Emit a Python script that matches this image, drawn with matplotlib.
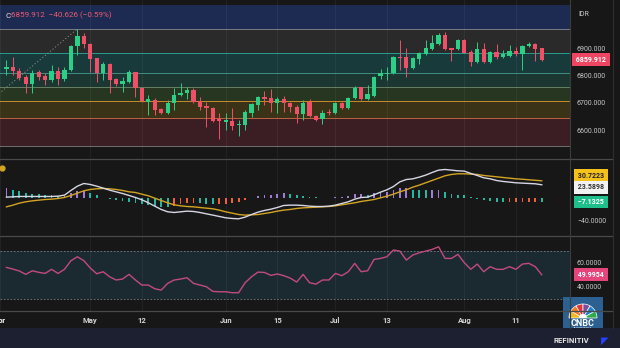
import matplotlib
matplotlib.use('Agg')
import numpy as np
import matplotlib.pyplot as plt
import matplotlib.transforms as mtransforms
from matplotlib.lines import Line2D
from matplotlib.patches import Rectangle, Wedge
from matplotlib.ticker import FuncFormatter

plt.rcParams['font.family'] = ['Roboto', 'DejaVu Sans']

# daily candles, trading days 4 Apr .. 18 Aug (bar index 0..83)
opens = [6826, 6834, 6819, 6794, 6770, 6813, 6799, 6785, 6819, 6787,
         6821, 6910, 6947, 6917, 6865, 6811, 6844, 6788, 6769, 6778,
         6813, 6754, 6704, 6711, 6676, 6662, 6699, 6729, 6738, 6748,
         6707, 6689, 6680, 6639, 6631, 6633, 6617, 6618, 6664, 6692,
         6723, 6717, 6699, 6714, 6699, 6686, 6659, 6704, 6652, 6639,
         6668, 6662, 6699, 6680, 6717, 6758, 6713, 6725, 6799, 6807,
         6809, 6870, 6868, 6830, 6862, 6880, 6898, 6916, 6951, 6901,
         6898, 6932, 6889, 6852, 6898, 6852, 6887, 6868, 6874, 6892,
         6879, 6910, 6916, 6901]
highs = [6858, 6870, 6829, 6803, 6821, 6821, 6810, 6840, 6834, 6834,
         6914, 6972, 6957, 6920, 6867, 6852, 6846, 6791, 6797, 6821,
         6815, 6756, 6729, 6717, 6681, 6711, 6754, 6775, 6760, 6754,
         6723, 6704, 6684, 6662, 6664, 6680, 6637, 6674, 6701, 6725,
         6745, 6750, 6721, 6725, 6704, 6692, 6711, 6713, 6655, 6674,
         6676, 6704, 6704, 6723, 6762, 6760, 6766, 6799, 6824, 6834,
         6873, 6932, 6901, 6870, 6889, 6932, 6951, 6957, 6963, 6901,
         6935, 6935, 6895, 6926, 6922, 6892, 6917, 6895, 6914, 6907,
         6914, 6926, 6920, 6902]
lows = [6803, 6803, 6785, 6738, 6735, 6785, 6766, 6778, 6766, 6782,
        6819, 6877, 6901, 6815, 6778, 6785, 6735, 6762, 6741, 6775,
        6723, 6704, 6655, 6655, 6659, 6659, 6674, 6725, 6713, 6699,
        6674, 6612, 6631, 6566, 6600, 6600, 6578, 6600, 6649, 6674,
        6692, 6668, 6662, 6668, 6668, 6627, 6637, 6647, 6634, 6622,
        6655, 6659, 6676, 6676, 6713, 6711, 6711, 6721, 6787, 6785,
        6807, 6821, 6797, 6824, 6844, 6877, 6895, 6914, 6895, 6856,
        6895, 6883, 6836, 6848, 6848, 6848, 6861, 6865, 6870, 6873,
        6821, 6907, 6856, 6856]
closes = [6834, 6818, 6791, 6770, 6811, 6797, 6785, 6819, 6787, 6821,
          6910, 6947, 6916, 6861, 6811, 6844, 6785, 6769, 6781, 6813,
          6754, 6707, 6713, 6674, 6662, 6701, 6729, 6738, 6748, 6704,
          6684, 6680, 6634, 6634, 6637, 6616, 6622, 6665, 6696, 6721,
          6715, 6699, 6713, 6699, 6684, 6658, 6701, 6652, 6637, 6664,
          6662, 6699, 6680, 6719, 6756, 6713, 6733, 6797, 6809, 6811,
          6870, 6865, 6828, 6865, 6883, 6901, 6920, 6951, 6898, 6895,
          6932, 6885, 6852, 6898, 6852, 6887, 6868, 6879, 6892, 6879,
          6910, 6916, 6900.538, 6859.912]

macd = [1.5, 2.1, 2.7, 2.7, 2.7, 2.7, 2.7, 2.7, 3.3, 5.1,
        13.4, 21.1, 25.9, 24.1, 21.1, 17.6, 14.0, 11.0, 8.0, 4.5,
        0.9, -3.3, -8.6, -14.6, -20.5, -24.7, -25.9, -24.7, -23.5, -24.1,
        -25.9, -28.3, -30.6, -33.0, -35.4, -36.6, -37.2, -34.2, -29.5, -25.3,
        -22.3, -20.0, -17.0, -13.4, -12.8, -12.8, -13.4, -14.6, -15.2, -15.2,
        -14.6, -12.8, -9.8, -6.8, -2.1, 0.9, 1.5, 5.7, 10.4, 14.6,
        20.5, 28.8, 33.0, 34.2, 37.2, 40.8, 45.5, 49.7, 50.9, 49.7,
        48.5, 47.9, 43.8, 40.2, 36.0, 34.2, 31.2, 29.5, 28.3, 27.1,
        26.5, 25.9, 25.3, 23.5898]
signal = [-15.8, -12.8, -9.2, -6.8, -5.1, -3.9, -2.7, -2.1, -0.9, 0.9,
          4.5, 8.6, 12.8, 15.2, 16.4, 17.0, 16.4, 15.2, 13.4, 11.0,
          9.8, 6.8, 3.9, -0.3, -4.5, -8.6, -12.2, -14.0, -15.2, -15.8,
          -17.0, -18.2, -19.3, -21.7, -24.7, -27.1, -29.5, -30.6, -30.1, -29.5,
          -27.7, -25.9, -23.5, -21.7, -20.5, -18.7, -17.6, -17.0, -16.4, -15.8,
          -15.2, -14.0, -12.2, -10.4, -8.6, -6.2, -4.5, -2.7, 0.3, 3.3,
          6.8, 11.0, 14.6, 19.3, 22.9, 27.1, 31.3, 35.4, 39.6, 42.0,
          43.2, 43.2, 42.6, 42.0, 40.2, 39.0, 37.8, 36.6, 35.4, 34.2,
          33.5, 32.5, 31.6, 30.7223]
hist = [17.3, 14.9, 11.9, 9.5, 7.8, 6.6, 5.4, 4.8, 4.2, 4.2,
        8.9, 12.5, 13.1, 8.9, 4.7, 0.6, -2.4, -4.2, -5.4, -6.5,
        -8.9, -10.1, -12.5, -14.3, -16.0, -16.1, -13.7, -10.7, -8.3, -8.3,
        -8.9, -10.1, -11.3, -11.3, -10.7, -9.5, -7.7, -3.6, 0.6, 4.2,
        5.4, 5.9, 6.5, 8.3, 7.7, 5.9, 4.2, 2.4, 1.2, 0.6,
        0.6, 1.2, 2.4, 3.6, 6.5, 7.1, 6.0, 8.4, 10.1, 11.3,
        13.7, 17.8, 18.4, 14.9, 14.3, 13.7, 14.2, 14.3, 11.3, 7.7,
        5.3, 4.7, 1.2, -1.8, -4.2, -4.8, -6.6, -7.1, -7.1, -7.1,
        -7.0, -6.6, -6.3, -7.1325]
rsi = [56.1, 54.7, 53.1, 50.3, 53.3, 52.0, 51.1, 54.5, 51.1, 54.5,
       61.7, 65.0, 61.7, 55.6, 50.8, 52.5, 48.3, 45.6, 46.4, 50.3,
       45.6, 41.4, 41.4, 38.3, 37.2, 42.8, 45.6, 46.4, 47.5, 42.8,
       41.4, 40.0, 36.1, 35.8, 35.8, 35.0, 35.0, 43.3, 48.3, 52.2,
       51.9, 49.5, 50.6, 49.2, 47.2, 43.9, 50.3, 43.3, 42.2, 45.6,
       45.6, 51.1, 49.2, 52.5, 59.5, 52.5, 53.3, 62.8, 63.6, 65.0,
       70.6, 69.7, 62.2, 66.4, 68.3, 69.7, 71.1, 73.3, 63.6, 63.6,
       67.0, 60.0, 54.5, 58.9, 52.5, 56.7, 54.5, 54.5, 56.7, 54.5,
       58.9, 59.5, 56.7, 49.9954]

# fibonacci retracement drawn on the chart (prices of the level lines, top to bottom)
fib_levels = [7062, 6973, 6883, 6811, 6759, 6707, 6643, 6541]
fib_anchor_idx = [-11, 11]
fib_anchor_price = [6541, 6973]

tick_idx = [-1, 13, 21, 34, 42, 51, 59, 71, 79]
tick_lab = ['Apr', 'May', '12', 'Jun', '15', 'Jul', '13', 'Aug', '11']
price_ticks = [6600, 6700, 6800, 6900]
macd_ticks = [-40]
rsi_ticks = [40, 60]
rsi_band = [30, 70]
change = -40.626
change_pct = -0.59

# ---- styling ----
W, H = 620, 348
BG = '#171717'
GREEN, RED = '#2bcf85', '#ef5068'
band_colors = ['#1d2a52', '#2a2a2b', '#183a3a', '#1c3731', '#263620', '#3b3317', '#3a1e23']
line_colors = ['#7b7b86', '#2a9c8f', '#3f8d84', '#667f63', '#c98a2c', '#bd6443', '#707070']

fig = plt.figure(figsize=(W / 100, H / 100), dpi=100, facecolor=BG)


def px_axes(top, bottom, left=0, right=570):
    return fig.add_axes([left / W, 1 - bottom / H, (right - left) / W, (bottom - top) / H])


def minus(fmt):
    return FuncFormatter(lambda v, p: (fmt % v).replace('-', '\u2212'))


ax_p = px_axes(0, 158)
ax_m = px_axes(159, 235)
ax_r = px_axes(236, 311)

idx = np.arange(len(closes))
for ax in (ax_p, ax_m, ax_r):
    ax.set_facecolor(BG)
    for s in ax.spines.values():
        s.set_visible(False)
    ax.set_xlim(-0.31, 87.38)
    ax.set_xticks(tick_idx)
    ax.grid(axis='x', color='#ffffff', alpha=0.06, lw=0.6)
    ax.yaxis.tick_right()
    ax.tick_params(axis='y', length=0, pad=5, labelsize=5, labelcolor='#c4c4c4')
    ax.tick_params(axis='x', length=0, labelbottom=False)

# price panel
ax_p.set_ylim(6496.7, 7079.7)
for top, bot, fc in zip(fib_levels[:-1], fib_levels[1:], band_colors):
    ax_p.axhspan(bot, top, color=fc, lw=0, zorder=0)
for lev, lc in zip(fib_levels[1:], line_colors):
    ax_p.axhline(lev, color=lc, lw=0.7, zorder=1)
ax_p.plot(fib_anchor_idx, fib_anchor_price, ls=(0, (1.2, 2.2)), color='#8c8c8c', lw=0.7, zorder=2)

o, h, l, c = (np.array(a, dtype=float) for a in (opens, highs, lows, closes))
col = np.where(c >= o, GREEN, RED)
ax_p.vlines(idx, l, h, colors=col, lw=0.7, zorder=3)
ax_p.bar(idx, np.maximum(np.abs(c - o), 1.5), bottom=np.minimum(o, c), width=0.66,
         color=col, lw=0, zorder=4)
ax_p.set_yticks(price_ticks)
ax_p.yaxis.set_major_formatter(minus('%.3f'))

# macd panel
ax_m.set_ylim(-66.1, 69.6)
hcol = []
for k, v in enumerate(hist):
    prev = hist[k - 1] if k else v
    if v >= 0:
        hcol.append('#a47ad8' if v >= prev else '#26b7a0')
    else:
        hcol.append('#f0603a' if v >= prev else '#26b7a0')
ax_m.bar(idx, hist, width=0.28, color=hcol, lw=0, zorder=2)
ax_m.plot(idx, signal, color='#d3a423', lw=1.0, zorder=3)
ax_m.plot(idx, macd, color='#d6d6e4', lw=1.0, zorder=4)
ax_m.set_yticks(macd_ticks)
ax_m.yaxis.set_major_formatter(minus('%.4f'))
ax_m.plot([0.003], [0.88], 'o', ms=3.5, color='#d3a423', transform=ax_m.transAxes, clip_on=False)

# rsi panel
ax_r.set_ylim(19.75, 82.3)
ax_r.axhspan(rsi_band[0], rsi_band[1], color='#1b2a30', lw=0, zorder=0)
for lv in rsi_band:
    ax_r.axhline(lv, color='#7a7e86', lw=0.6, ls=(0, (2, 2)), zorder=1)
ax_r.plot(idx, rsi, color='#c24a80', lw=1.0, zorder=3)
ax_r.set_yticks(rsi_ticks)
ax_r.yaxis.set_major_formatter(minus('%.4f'))
ax_r.set_xticklabels(tick_lab)
ax_r.tick_params(axis='x', labelbottom=True, pad=4, labelsize=5.5, labelcolor='#d4d4d4')
for t in ax_r.get_xticklabels():
    t.set_fontweight('bold')
# the April label sits mostly off the left edge, as in the source chart
ax_r.annotate(tick_lab[0], xy=(tick_idx[0], 0), xycoords=('data', 'axes fraction'),
              xytext=(0, -4), textcoords='offset points', ha='center', va='top',
              fontsize=5.5, color='#d4d4d4', fontweight='bold', annotation_clip=False)


def value_tag(ax, y, txt, fc, tc, dy=0):
    tr = mtransforms.blended_transform_factory(fig.transFigure, ax.transData)
    tr = mtransforms.offset_copy(tr, fig=fig, y=dy, units='dots')
    ax.text(591 / W, y, txt.replace('-', '\u2212'), transform=tr, ha='center', va='center',
            fontsize=5, color=tc, fontweight='bold', clip_on=False, zorder=10,
            bbox=dict(boxstyle='square,pad=0.35', fc=fc, ec='none'))


value_tag(ax_p, closes[-1], ' %.3f ' % closes[-1], '#ee4662', 'white')
value_tag(ax_m, signal[-1], ' %.4f ' % signal[-1], '#f5c21b', '#222222', dy=5)
value_tag(ax_m, macd[-1], ' %.4f ' % macd[-1], '#f2f2f2', '#333333', dy=-2.5)
value_tag(ax_m, hist[-1], ' %.4f ' % hist[-1], '#1fbf8c', 'white')
value_tag(ax_r, rsi[-1], ' %.4f ' % rsi[-1], '#e6457c', 'white')

# header text
hy = 1 - 15.5 / H
fig.text(5 / W, hy, 'C', color='#e6e6e6', fontsize=5.8, va='center')
fig.text(10.5 / W, hy, ('%.3f  %+.3f (%+.2f%%)' % (closes[-1], change, change_pct)).replace('-', '\u2212'),
         color='#ee5a70', fontsize=5.8, va='center')
fig.text(578 / W, 1 - 14 / H, 'IDR', color='#c8c8c8', fontsize=5, va='center')

# separators
for yy in (158.5, 235.5, 311):
    fig.add_artist(Line2D([0, 613 / W], [1 - yy / H] * 2, color='#4a4a4a', lw=0.9,
                          transform=fig.transFigure))
fig.add_artist(Line2D([570 / W] * 2, [1 - 328 / H, 1], color='#3c3c3c', lw=0.8,
                      transform=fig.transFigure))
fig.add_artist(Line2D([613 / W] * 2, [1 - 328 / H, 1], color='#2e2e2e', lw=0.8,
                      transform=fig.transFigure))

# footer strip
fig.add_artist(Rectangle((0, 0), 1, 20 / H, transform=fig.transFigure, color='#1d2030', lw=0))
fig.text(571 / W, 1 - 340.5 / H, 'REFINITIV', color='#e4e4e4', fontsize=5.6,
         fontweight='bold', ha='center', va='center')
fig.text(605 / W, 1 - 341 / H, '\u25e4', color='#2442ff', fontsize=7, ha='center', va='center',
         family=['DejaVu Sans'])

# CNBC Indonesia badge
lg = fig.add_axes([563 / W, 1 - 335 / H, 40 / W, 38 / H])
lg.set_xlim(0, 40)
lg.set_ylim(0, 38)
lg.axis('off')
lg.add_patch(Rectangle((0, 0), 40, 38, color='#2f6ea6', alpha=0.85, lw=0))
feathers = ['#f6b71d', '#f07a22', '#e2333d', '#7e4c9f', '#1f82c6', '#2fab4b']
for k, fc in enumerate(feathers):
    lg.add_patch(Wedge((20, 17), 14, 180 - 30 * (k + 1), 180 - 30 * k, fc=fc, ec='white', lw=0.5))
lg.add_patch(Wedge((20, 17), 4, 0, 180, fc='white', lw=0))
lg.text(20, 11.5, 'CNBC', color='white', fontsize=6.5, fontweight='bold', ha='center', va='center')
lg.text(20, 6, 'INDONESIA', color='white', fontsize=2.6, ha='center', va='center')

fig.savefig('out.png', dpi=100, facecolor=BG)
